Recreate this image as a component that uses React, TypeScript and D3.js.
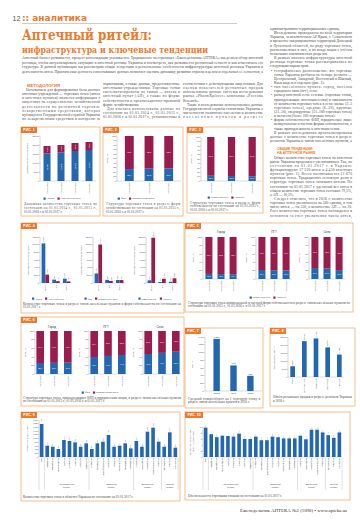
import React from 'react';
import * as d3 from 'd3';

const ORANGE = '#EC7A2C';
const BOXC = '#F3AE74';
const BLUE = '#2367B1';
const RED = '#9A1B4D';
const INK = '#4a4a4a';
const SERIF = "'Liberation Serif','DejaVu Serif',serif";
const SANS = "'Liberation Sans','DejaVu Sans',sans-serif";

// ---------- DATA ----------
const fig1Dates = ['01.01.2014', '01.01.2015', '01.01.2016', '01.01.2017'];
const fig1Pharmacies = [15390, 15940, 16670, 17220];
const fig1Points = [4060, 4050, 4440, 4450];

const years3 = ['01.01.2015', '01.01.2016', '01.01.2017'];
const fig2Flp = [26.4, 27.5, 27.9];
const fig3Communal = [11.9, 11.3, 10.8];

const settlement = ['Город', 'ПГТ', 'Село'];
const fig4Pharm = [10330, 880, 1130];
const fig4Points = [2190, 470, 420];
const fig4Flp = [2480, 820, 780];
const fig4Legal = [10040, 530, 770];
const fig4Communal = [700, 240, 320];
const fig4Private = [11820, 1110, 1230];

const fig5CityCommunal = [12.1, 11.8, 11.4];
const fig5UrbanCommunal = [21.4, 20.9, 20.3];
const fig5VillageCommunal = [26.1, 24.9, 21.2];

const fig6CityFlp = [25.6, 25.9, 26.3];
const fig6UrbanFlp = [39.6, 42.0, 44.2];
const fig6VillageFlp = [46.5, 49.1, 51.8];

const fig7Turnover = [1351, 663, 393];

const fig8Regions = ['Киев', 'Центральный', 'Западный', 'Восточный', 'Южный'];
const fig8Values = [6800, 22700, 24400, 18750, 14200];

const oblasts = ['Киев', 'Винницкая', 'Житомирская', 'Кировоградская', 'Киевская', 'Полтавская', 'Сумская', 'Черкасская', 'Черниговская',
  'Волынская', 'Закарпатская', 'Ивано-Франковская', 'Львовская', 'Ровенская', 'Тернопольская', 'Хмельницкая', 'Черновицкая',
  'Донецкая', 'Запорожская', 'Харьковская', 'Днепропетровская', 'Луганская', 'Николаевская', 'Одесская', 'Херсонская'];
const fig9Counts = [1784, 611, 557, 432, 919, 865, 793, 557, 739, 432, 739, 829, 1189, 557, 611, 739, 468, 865, 557, 1369, 1586, 829, 557, 1333, 505];
const fig10PerTenK = [9.8, 7.6, 6.6, 7.1, 7.0, 6.8, 7.8, 6.0, 6.0, 6.8, 5.6, 5.6, 6.8, 6.6, 6.2, 6.2, 6.2, 7.1, 5.9, 9.1, 9.1, 8.2, 7.3, 6.4, 8.2];
const regionGroups = ['Центральный регион', 'Западный регион', 'Восточный регион', 'Южный регион'];
const regionGroupFirst = [1, 9, 17, 22];
const regionGroupLast = [8, 16, 21, 24];

// ---------- TEXT ----------
const INTRO = 'Аптечный бизнес развивается, процесс консолидации усиливается. Традиционно на страницах «Еженедельника АПТЕКА» мы делаем обзор аптечной розницы, чтобы актуализировать ситуацию в аптечной рознице Украины и посмотреть, как развивается розничный сегмент и как изменилась его структура. В данной публикации мы рассмотрим общие тенденции и региональные особенности инфраструктуры аптечной розницы Украины и деятельность аптек. Практическая ценность сопоставимых данных позволяет оценить динамику развития отрасли в целом и отдельных её сегментов, а также определить перспективы развития аптечного бизнеса в ближайшее время.';

const FLOW1 = [
  { kind: 'p', text: 'Основанием для формирования базы данных аптечных учреждений — торговых точек (аптек и аптечных пунктов) является информация о лицензиях на осуществление хозяйственной деятельности по розничной торговле лекарственными средствами, которая публикуется Государственной службой Украины по лекарственным средствам и контролю за наркотиками, а также данные, предоставленные аптечными учреждениями. Торговые точки систематизированы по типам — аптека и аптечный пункт (АП), а также по форме собственности и организационно-правовой форме хозяйствования.' },
  { kind: 'p', text: 'Для анализа использованы данные по состоянию на 01.01.2014 г., 01.01.2015 г., 01.01.2016 г. и 01.01.2017 г., установленные в соответствии с действующими лицензиями. Для оценки показателей розничных продаж использованы данные системы исследования рынка «PharmXplorer» компании «Proxima Research».' },
  { kind: 'p', text: 'Также в исследовании использовались данные Государственной службы статистики Украины о численности наличного населения и количестве населённых пунктов в разрезе административно-территориальных единиц.' },
  { kind: 'p', text: 'Исследование проводилось по всей территории Украины, за исключением АР Крым, г. Севастополя и временно оккупированных территорий Донецкой и Луганской областей, по ряду торговых точек, расположенных в них, и их владельцам с учётом нескольких аналитических разрезов.' },
  { kind: 'p', text: 'В рамках анализа инфраструктуры аптечной розницы торговые точки рассматривались по следующим параметрам:' },
  { kind: 'b', text: 'географическое расположение: все торговые точки Украины разбиты на четыре региона — Центральный, Западный, Восточный и Южный, Киев выделен отдельно (рис. 1);' },
  { kind: 'b', text: 'тип населённого пункта: город, посёлок городского типа (пгт), село;' },
  { kind: 'b', text: 'размер аптечной сети: сетевые (торговые точки, принадлежащие аптечным сетям) в зависимости от количества торговых точек в сети: малые (2–5 торговых точек), средние (6–20), крупные (21–50), сверхкрупные (51–100 торговых точек) и мегасети (более 100 торговых точек);' },
  { kind: 'b', text: 'форма собственности: ФЛП, юридическое лицо; коммунальная и частная формы собственности, а также принадлежность к аптечным сетям.' },
  { kind: 'p', text: 'В рамках исследования проанализированы данные о количестве торговых точек в разрезе регионов Украины и типов населённых пунктов, а также о распределении торговых точек по формам собственности. Кроме того, рассмотрена динамика среднего товарооборота в расчёте на одну торговую точку и обеспеченность населения торговыми точками в каждой области.' },
];
const FLOW2 = [
  { kind: 'p', text: 'Общее количество торговых точек на аптечном рынке Украины продолжает увеличиваться. Так, по состоянию на 01.01.2017 г. в Украине функционируют 17 220 аптек и 4 450 аптечных пунктов (рис. 1). Всего насчитывается 21 670 торговых точек. Традиционно основную долю в структуре торговых точек занимают аптеки. По состоянию на 01.01.2017 г. удельный вес аптек в общем количестве торговых точек составил 79,5%, а АП — 20,5%.' },
  { kind: 'p', text: 'Следует отметить, что в 2016 г. количество торговых точек увеличилось на 560 единиц, в том числе аптек — на 550, а количество АП — на 10. Рост количества торговых точек наблюдался в основном за счёт увеличения числа аптек, принадлежащих юридическим лицам, и сетевых аптечных учреждений, которые продолжают активно расширять своё присутствие в регионах страны.' },
];

// ---------- HELPERS ----------
const ruNum = (v) => d3.format(',')(v).replace(/,/g, '\u2009');
const ruPct = (v) => d3.format('.1f')(v).replace('.', ',');
const ruDec = (v) => d3.format('.1f')(v).replace('.', ',');

let _ctx = null;
function textWidth(s, size, family = SERIF, weight = 'normal') {
  if (!_ctx) _ctx = document.createElement('canvas').getContext('2d');
  _ctx.font = `${weight} ${size}px ${family}`;
  return _ctx.measureText(s).width;
}

function wrap(text, width, size, family = SERIF) {
  const words = text.split(/\s+/);
  const lines = [];
  let cur = '';
  for (const w of words) {
    const t = cur ? cur + ' ' + w : w;
    if (cur && textWidth(t, size, family) > width) { lines.push(cur); cur = w; } else cur = t;
  }
  if (cur) lines.push(cur);
  return lines;
}

function flowText(paras, cols, size, lh) {
  const out = [];
  let ci = 0;
  let y = cols[0].y0;
  for (const p of paras) {
    const words = p.text.split(/\s+/);
    let first = true;
    let i = 0;
    while (i < words.length) {
      if (ci >= cols.length) return out;
      const c = cols[ci];
      const pad = p.kind === 'b' ? 4 : 0;
      const ind = p.kind === 'p' && first ? 4 : 0;
      const avail = c.w - pad - ind;
      let cur = words[i]; i++;
      while (i < words.length && textWidth(cur + ' ' + words[i], size) <= avail) { cur += ' ' + words[i]; i++; }
      out.push({ x: c.x + pad + ind, bx: c.x + 1, y, text: cur, w: avail, justify: i < words.length, bullet: p.kind === 'b' && first });
      first = false;
      y += lh;
      if (y > c.y1 + 0.01) { ci++; if (ci < cols.length) y = cols[ci].y0; }
    }
  }
  return out;
}

function FlowLines({ lines, size }) {
  return (
    <g fontFamily={SERIF} fontSize={size} fill={INK}>
      {lines.map((l, i) => (
        <g key={i}>
          {l.bullet && <text x={l.bx} y={l.y}>•</text>}
          <text x={l.x} y={l.y} textLength={l.justify ? l.w : undefined} lengthAdjust="spacing">{l.text}</text>
        </g>
      ))}
    </g>
  );
}

function Caption({ x, y, w, text, size = 3.3, lh = 3.9 }) {
  const lines = wrap(text, w, size);
  return (
    <g fontFamily={SERIF} fontSize={size} fill={INK}>
      {lines.map((l, i) => (
        <text key={i} x={x} y={y + i * lh} textLength={i < lines.length - 1 ? w : undefined} lengthAdjust="spacing">{l}</text>
      ))}
    </g>
  );
}

function Frame({ x, y, w, h, n }) {
  const tw = n >= 10 ? 18 : 16;
  return (
    <g>
      <rect x={x} y={y} width={w} height={h} fill="none" stroke={BOXC} strokeWidth={0.8} />
      <rect x={x} y={y} width={tw} height={6} fill={ORANGE} />
      <text x={x + tw / 2} y={y + 4.3} textAnchor="middle" fontSize={3.5} fontWeight="bold" fill="#fff" fontFamily={SANS}>РИС. {n}</text>
    </g>
  );
}

function Legend({ cx, y, items, size = 2.5 }) {
  const widths = items.map((it) => 3 + textWidth(it.label, size, SANS));
  const total = widths.reduce((a, b) => a + b, 0) + (items.length - 1) * 3;
  let x = cx - total / 2;
  return (
    <g>
      {items.map((it, i) => {
        const x0 = x;
        x += widths[i] + 3;
        return (
          <g key={i}>
            <rect x={x0} y={y - 2} width={2.2} height={2.2} fill={it.color} />
            <text x={x0 + 3} y={y} fontSize={size} fontFamily={SANS} fill={INK}>{it.label}</text>
          </g>
        );
      })}
    </g>
  );
}

function YAxis({ x, y, ticks, fmt, size = 2.3 }) {
  const r = y.range();
  return (
    <g>
      <line x1={x} x2={x} y1={Math.min(...r)} y2={Math.max(...r)} stroke="#777" strokeWidth={0.3} />
      {ticks.map((t) => (
        <g key={t}>
          <line x1={x - 0.8} x2={x} y1={y(t)} y2={y(t)} stroke="#777" strokeWidth={0.3} />
          <text x={x - 1.2} y={y(t)} dy="0.35em" textAnchor="end" fontSize={size} fontFamily={SANS} fill="#444">{fmt(t)}</text>
        </g>
      ))}
    </g>
  );
}

function VText({ x, y, text, size, anchor = 'end', fill = '#444', weight = 'normal' }) {
  return (
    <text transform={`translate(${x},${y}) rotate(-90)`} dy="0.35em" textAnchor={anchor} fontSize={size} fontFamily={SANS} fill={fill} fontWeight={weight}>{text}</text>
  );
}

function StackChart({ cats, low, axisX, x1, pi, po, yTop, yBot, max, step, high, rotateIn = false, fmt = ruPct, labelSize = 2.2, tickSize = 2.2, yTitle, yTitleX, xLabelSize = 2.2 }) {
  const y = d3.scaleLinear().domain([0, max]).range([yBot, yTop]);
  const x = d3.scaleBand().domain(cats).range([axisX, x1]).paddingInner(pi).paddingOuter(po);
  const ticks = d3.range(0, max + step / 2, step);
  const bw = x.bandwidth();
  const tickFmt = max > 1000 ? ruNum : (v) => String(v);
  const lbl = (cx, cy, s) => rotateIn
    ? <VText x={cx} y={cy} text={s} size={labelSize} anchor="middle" fill="#fff" />
    : <text x={cx} y={cy} dy="0.35em" textAnchor="middle" fontSize={labelSize} fontFamily={SANS} fill="#fff">{s}</text>;
  return (
    <g>
      <YAxis x={axisX} y={y} ticks={ticks} fmt={tickFmt} size={tickSize} />
      <line x1={axisX} x2={x1} y1={yBot} y2={yBot} stroke="#888" strokeWidth={0.3} />
      {cats.map((c, i) => {
        const x0 = x(c);
        const lo = low[i];
        const hi = high ? high[i] : max - lo;
        const yLo = y(lo);
        const yHi = y(lo + hi);
        const cx = x0 + bw / 2;
        return (
          <g key={c}>
            <rect x={x0} y={yLo} width={bw} height={yBot - yLo} fill={BLUE} />
            <rect x={x0} y={yHi} width={bw} height={yLo - yHi} fill={RED} />
            {lbl(cx, (yLo + yBot) / 2, fmt(lo))}
            {lbl(cx, (yHi + yLo) / 2, fmt(hi))}
            <VText x={cx} y={yBot + 1.5} text={c} size={xLabelSize} />
          </g>
        );
      })}
      <VText x={yTitleX} y={(yTop + yBot) / 2} text={yTitle} size={2.4} anchor="middle" />
    </g>
  );
}

function GroupChart({ axisX, a, b }) {
  const y = d3.scaleLinear().domain([0, 12000]).range([283, 237]);
  const x = d3.scaleBand().domain(settlement).range([axisX, axisX + 32]).paddingInner(0.3).paddingOuter(0.15);
  const sub = d3.scaleBand().domain(['a', 'b']).range([0, x.bandwidth()]);
  const ticks = d3.range(0, 12001, 2000);
  return (
    <g>
      <YAxis x={axisX} y={y} ticks={ticks} fmt={ruNum} size={2.1} />
      <line x1={axisX} x2={axisX + 32} y1={283} y2={283} stroke="#888" strokeWidth={0.3} />
      {settlement.map((c, i) => {
        const x0 = x(c);
        const bars = [{ k: 'a', v: a[i], col: BLUE }, { k: 'b', v: b[i], col: RED }];
        return (
          <g key={c}>
            {bars.map((bb) => (
              <g key={bb.k}>
                <rect x={x0 + sub(bb.k)} y={y(bb.v)} width={sub.bandwidth()} height={283 - y(bb.v)} fill={bb.col} />
                <VText x={x0 + sub(bb.k) + sub.bandwidth() / 2} y={y(bb.v) - 0.8} text={ruNum(bb.v)} size={1.9} anchor="start" />
              </g>
            ))}
            <VText x={x0 + x.bandwidth() / 2} y={285} text={c} size={2.2} />
          </g>
        );
      })}
      <VText x={axisX - 12} y={260} text="Количество торговых точек" size={2.3} anchor="middle" />
    </g>
  );
}

function BarChart({ cats, vals, axisX, x1, pi, po, yTop, yBot, max, step, tickFmt, valFmt, rotVal, valSize, tickSize, xRot, xSize, yTitle, yTitleX }) {
  const y = d3.scaleLinear().domain([0, max]).range([yBot, yTop]);
  const x = d3.scaleBand().domain(cats).range([axisX, x1]).paddingInner(pi).paddingOuter(po);
  const ticks = d3.range(0, max + step / 2, step);
  const bw = x.bandwidth();
  return (
    <g>
      <YAxis x={axisX} y={y} ticks={ticks} fmt={tickFmt} size={tickSize} />
      <line x1={axisX} x2={x1} y1={yBot} y2={yBot} stroke="#888" strokeWidth={0.3} />
      {cats.map((c, i) => {
        const cx = x(c) + bw / 2;
        const v = vals[i];
        return (
          <g key={c}>
            <rect x={x(c)} y={y(v)} width={bw} height={yBot - y(v)} fill={BLUE} />
            {rotVal
              ? <VText x={cx} y={y(v) - 0.8} text={valFmt(v)} size={valSize} anchor="start" />
              : <text x={cx} y={y(v) - 1} textAnchor="middle" fontSize={valSize} fontFamily={SANS} fill="#444">{valFmt(v)}</text>}
            {xRot
              ? <VText x={cx} y={yBot + 1.5} text={c} size={xSize} />
              : <text x={cx} y={yBot + 3.4} textAnchor="middle" fontSize={xSize} fontFamily={SANS} fill="#444">{c}</text>}
          </g>
        );
      })}
      <VText x={yTitleX} y={(yTop + yBot) / 2} text={yTitle} size={2.3} anchor="middle" />
    </g>
  );
}

function RegionChart({ vals, axisX, x1, yTop, yBot, max, step, tickFmt, valFmt, titleLines, titleX }) {
  const y = d3.scaleLinear().domain([0, max]).range([yBot, yTop]);
  const x = d3.scaleBand().domain(oblasts).range([axisX, x1]).paddingInner(0.35).paddingOuter(0.15);
  const ticks = d3.range(0, max + step / 2, step);
  const bw = x.bandwidth();
  const gap = (x.step() - bw) / 2;
  const bounds = [axisX, x(oblasts[0]) + bw + gap, ...regionGroupLast.map((e) => x(oblasts[e]) + bw + gap)];
  return (
    <g>
      <YAxis x={axisX} y={y} ticks={ticks} fmt={tickFmt} size={1.9} />
      <line x1={axisX} x2={x1} y1={yBot} y2={yBot} stroke="#888" strokeWidth={0.3} />
      {oblasts.map((c, i) => {
        const cx = x(c) + bw / 2;
        const v = vals[i];
        return (
          <g key={c}>
            <rect x={x(c)} y={y(v)} width={bw} height={yBot - y(v)} fill={BLUE} />
            <VText x={cx} y={y(v) - 0.6} text={valFmt(v)} size={1.7} anchor="start" />
            <VText x={cx} y={yBot + 1.3} text={c} size={1.9} />
          </g>
        );
      })}
      {bounds.map((bx, i) => (
        <line key={i} x1={bx} x2={bx} y1={yBot + 1} y2={yBot + 33} stroke="#999" strokeWidth={0.3} />
      ))}
      {regionGroups.map((g, i) => {
        const l = x(oblasts[regionGroupFirst[i]]) - gap;
        const r = x(oblasts[regionGroupLast[i]]) + bw + gap;
        const parts = g.split(' ');
        return (
          <g key={g} fontSize={2.3} fontFamily={SANS} fill="#444" textAnchor="middle">
            <text x={(l + r) / 2} y={yBot + 27.5}>{parts[0]}</text>
            <text x={(l + r) / 2} y={yBot + 30.5}>{parts[1]}</text>
          </g>
        );
      })}
      {titleLines.map((t, i) => (
        <VText key={i} x={titleX + i * 2.8} y={(yTop + yBot) / 2} text={t} size={2.1} anchor="middle" />
      ))}
    </g>
  );
}

export default function App() {
  const BODY_FS = 3.7;
  const BODY_LH = 4.15;
  const introLines = flowText([{ kind: 'n', text: INTRO }], [{ x: 22, w: 241, y0: 59, y1: 72.5 }], BODY_FS, 4.5);
  const f1 = flowText(FLOW1, [
    { x: 22, w: 78, y0: 91, y1: 121 },
    { x: 103, w: 77, y0: 85, y1: 121 },
    { x: 183, w: 80, y0: 85, y1: 121 },
    { x: 270, w: 82, y0: 30, y1: 143 },
  ], BODY_FS, BODY_LH);
  const f2 = flowText(FLOW2, [{ x: 270, w: 82, y0: 158.5, y1: 217 }], BODY_FS, BODY_LH);

  const legPharm = [{ color: BLUE, label: 'Аптеки' }, { color: RED, label: 'Аптечные пункты' }];
  const legFlp = [{ color: BLUE, label: 'ФЛП' }, { color: RED, label: 'Юридические лица' }];
  const legComm = [{ color: BLUE, label: 'Коммунальные' }, { color: RED, label: 'Частные' }];

  return (
    <svg width={360} height={530} viewBox="0 0 360 530" style={{ position: 'absolute', left: 0, top: 0 }}>
      <rect width={360} height={530} fill="#fff" />

      {/* header */}
      <text x={12.5} y={21} fontSize={7} fontFamily={SANS} fill="#555">12</text>
      <text x={22} y={21} fontSize={8} fontWeight="bold" fontFamily={"'DejaVu Sans',sans-serif"} fill={ORANGE} textLength={65} lengthAdjust="spacingAndGlyphs">:: аналитика</text>
      <line x1={22} x2={237} y1={23.5} y2={23.5} stroke="#999" strokeWidth={0.5} />
      <text x={22} y={40} fontSize={15.5} fontWeight="bold" fontFamily={"'DejaVu Serif',serif"} fill={ORANGE} textLength={130} lengthAdjust="spacingAndGlyphs">Аптечный ритейл:</text>
      <text x={22} y={53.3} fontSize={10} fontWeight="bold" fontFamily={"'DejaVu Serif',serif"} fill={ORANGE} textLength={186} lengthAdjust="spacingAndGlyphs">инфраструктура и ключевые тенденции</text>

      <FlowLines lines={introLines} size={BODY_FS} />

      <text x={27} y={87} fontSize={3.6} fontWeight="bold" fontFamily={SANS} fill={ORANGE} textLength={33} lengthAdjust="spacingAndGlyphs">МЕТОДОЛОГИЯ</text>
      <FlowLines lines={f1} size={BODY_FS} />

      <text x={277} y={149.7} fontSize={3.4} fontWeight="bold" fontFamily={SANS} fill={ORANGE}>ОБЩИЕ ТЕНДЕНЦИИ</text>
      <text x={277} y={153.8} fontSize={3.4} fontWeight="bold" fontFamily={SANS} fill={ORANGE}>НА АПТЕЧНОМ РЫНКЕ</text>
      <FlowLines lines={f2} size={BODY_FS} />

      {/* Fig 1 */}
      <Frame x={21} y={127} w={79} h={89} n={1} />
      <StackChart cats={fig1Dates} low={fig1Pharmacies} high={fig1Points} axisX={40} x1={96} pi={0.5} po={0.25}
        yTop={136} yBot={181} max={25000} step={5000} rotateIn fmt={ruNum} labelSize={2.1} tickSize={2.1}
        yTitle="Количество торговых точек" yTitleX={27} />
      <Legend cx={62} y={199.5} items={legPharm} />
      <Caption x={24} y={205} w={73} text="Динамика количества торговых точек по состоянию на 01.01.2014 г., 01.01.2015 г., 01.01.2016 г. и 01.01.2017 г." />

      {/* Fig 2 */}
      <Frame x={103} y={127} w={80} h={89} n={2} />
      <StackChart cats={years3} low={fig2Flp} axisX={117} x1={181} pi={0.55} po={0.4}
        yTop={136} yBot={181} max={100} step={10} yTitle="Доля, %" yTitleX={107} />
      <Legend cx={136} y={199.5} items={legFlp} />
      <Caption x={106} y={205} w={74} text="Структура торговых точек в разрезе форм хозяйствования по состоянию на 01.01.2015 г., 01.01.2016 г. и 01.01.2017 г." />

      {/* Fig 3 */}
      <Frame x={187} y={127} w={76} h={86} n={3} />
      <StackChart cats={years3} low={fig3Communal} axisX={201} x1={262} pi={0.65} po={0.3}
        yTop={137} yBot={181} max={100} step={10} yTitle="Доля, %" yTitleX={191} />
      <Legend cx={226} y={198.5} items={legComm} />
      <Caption x={190} y={203.5} w={70} text="Структура торговых точек в разрезе форм собственности по состоянию на 01.01.2015 г., 01.01.2016 г. и 01.01.2017 г." />

      {/* Fig 4 */}
      <Frame x={21} y={223} w={163} h={90} n={4} />
      <GroupChart axisX={40} a={fig4Pharm} b={fig4Points} />
      <GroupChart axisX={93} a={fig4Flp} b={fig4Legal} />
      <GroupChart axisX={146} a={fig4Communal} b={fig4Private} />
      <Legend cx={48} y={299.5} items={[{ color: BLUE, label: 'Аптеки' }, { color: RED, label: 'Аптечный пункт' }]} size={2.2} />
      <Legend cx={101} y={299.5} items={[{ color: BLUE, label: 'ФЛП' }, { color: RED, label: 'Юридическое лицо' }]} size={2.2} />
      <Legend cx={155} y={299.5} items={legComm} size={2.2} />
      <Caption x={23} y={304.5} w={158} text="Количество торговых точек в разрезе типов населённых пунктов и форм собственности по состоянию на 01.01.2017 г." />

      {/* Fig 5 */}
      <Frame x={185} y={223} w={168} h={89} n={5} />
      {[{ ax: 203, v: fig5CityCommunal, t: 'Город' }, { ax: 256, v: fig5UrbanCommunal, t: 'ПГТ' }, { ax: 309, v: fig5VillageCommunal, t: 'Село' }].map((s) => (
        <g key={s.t}>
          <text x={s.ax + 18} y={233} textAnchor="middle" fontSize={2.9} fontFamily={SANS} fill="#333">{s.t}</text>
          <StackChart cats={years3} low={s.v} axisX={s.ax} x1={s.ax + 36} pi={0.42} po={0.2}
            yTop={237} yBot={279} max={100} step={20} yTitle="Доля, %" yTitleX={s.ax - 10} labelSize={2} />
        </g>
      ))}
      <Legend cx={268} y={298.5} items={legComm} />
      <Caption x={188} y={303.5} w={162} text="Структура торговых точек коммунальной и частной форм собственности в разрезе типов населённых пунктов по состоянию на 01.01.2015 г., 01.01.2016 г. и 01.01.2017 г." />

      {/* Fig 6 */}
      <Frame x={21} y={317} w={163} h={89} n={6} />
      {[{ ax: 35, v: fig6CityFlp, t: 'Город' }, { ax: 89, v: fig6UrbanFlp, t: 'ПГТ' }, { ax: 143, v: fig6VillageFlp, t: 'Село' }].map((s) => (
        <g key={s.t}>
          <text x={s.ax + 17} y={328} textAnchor="middle" fontSize={2.9} fontFamily={SANS} fill="#333">{s.t}</text>
          <StackChart cats={years3} low={s.v} axisX={s.ax} x1={s.ax + 38} pi={0.45} po={0.1}
            yTop={331} yBot={374} max={100} step={20} yTitle="Доля, %" yTitleX={s.ax - 10} labelSize={2} />
        </g>
      ))}
      <Legend cx={100} y={393.5} items={legFlp} />
      <Caption x={23} y={398.5} w={158} text="Структура торговых точек, принадлежащих ФЛП и юридическим лицам, в разрезе типов населённых пунктов по состоянию на 01.01.2015 г., 01.01.2016 г. и 01.01.2017 г." />

      {/* Fig 7 */}
      <Frame x={185} y={328} w={78} h={80} n={7} />
      <BarChart cats={settlement} vals={fig7Turnover} axisX={205} x1={262} pi={0.62} po={0.5}
        yTop={337} yBot={391} max={1400} step={200} tickFmt={ruNum} valFmt={ruNum} rotVal={false} valSize={2.3}
        tickSize={2.2} xRot={false} xSize={2.4} yTitle="Тыс. грн" yTitleX={192} />
      <Caption x={188} y={399.5} w={72} text="Средний товарооборот на 1 торговую точку в разрезе типов населённых пунктов в 2016 г." />

      {/* Fig 8 */}
      <Frame x={270} y={328} w={85} h={78} n={8} />
      <BarChart cats={fig8Regions} vals={fig8Values} axisX={288} x1={344} pi={0.6} po={0.2}
        yTop={337.5} yBot={377} max={25000} step={5000} tickFmt={ruNum} valFmt={ruNum} rotVal valSize={2}
        tickSize={2.1} xRot xSize={2.2} yTitle="Товарооборот, млн грн" yTitleX={274} />
      <Caption x={273} y={398} w={79} text="Объём розничных продаж в разрезе регионов Украины в 2016 г." />

      {/* Fig 9 */}
      <Frame x={21} y={412} w={159} h={89} n={9} />
      <RegionChart vals={fig9Counts} axisX={39} x1={178} yTop={420} yBot={457} max={2000} step={200}
        tickFmt={ruNum} valFmt={ruNum} titleLines={['Количество торговых точек']} titleX={27} />
      <Caption x={23} y={497.5} w={155} text="Количество торговых точек в областях Украины по состоянию на 01.01.2017 г." />

      {/* Fig 10 */}
      <Frame x={185} y={412} w={165} h={88} n={10} />
      <RegionChart vals={fig10PerTenK} axisX={203} x1={342} yTop={427} yBot={457} max={10} step={2}
        tickFmt={(v) => String(v)} valFmt={ruDec} titleLines={['Количество торговых точек', 'на 10 тыс. населения']} titleX={190} />
      <Caption x={188} y={496.5} w={158} text="Обеспеченность торговыми точками по состоянию на 01.01.2017 г." />

      {/* footer */}
      <text x={240} y={511.5} fontSize={4.2} fontFamily={SERIF} fill="#333" textLength={107} lengthAdjust="spacingAndGlyphs">Еженедельник АПТЕКА №2 (1098) • www.apteka.ua</text>
    </svg>
  );
}
